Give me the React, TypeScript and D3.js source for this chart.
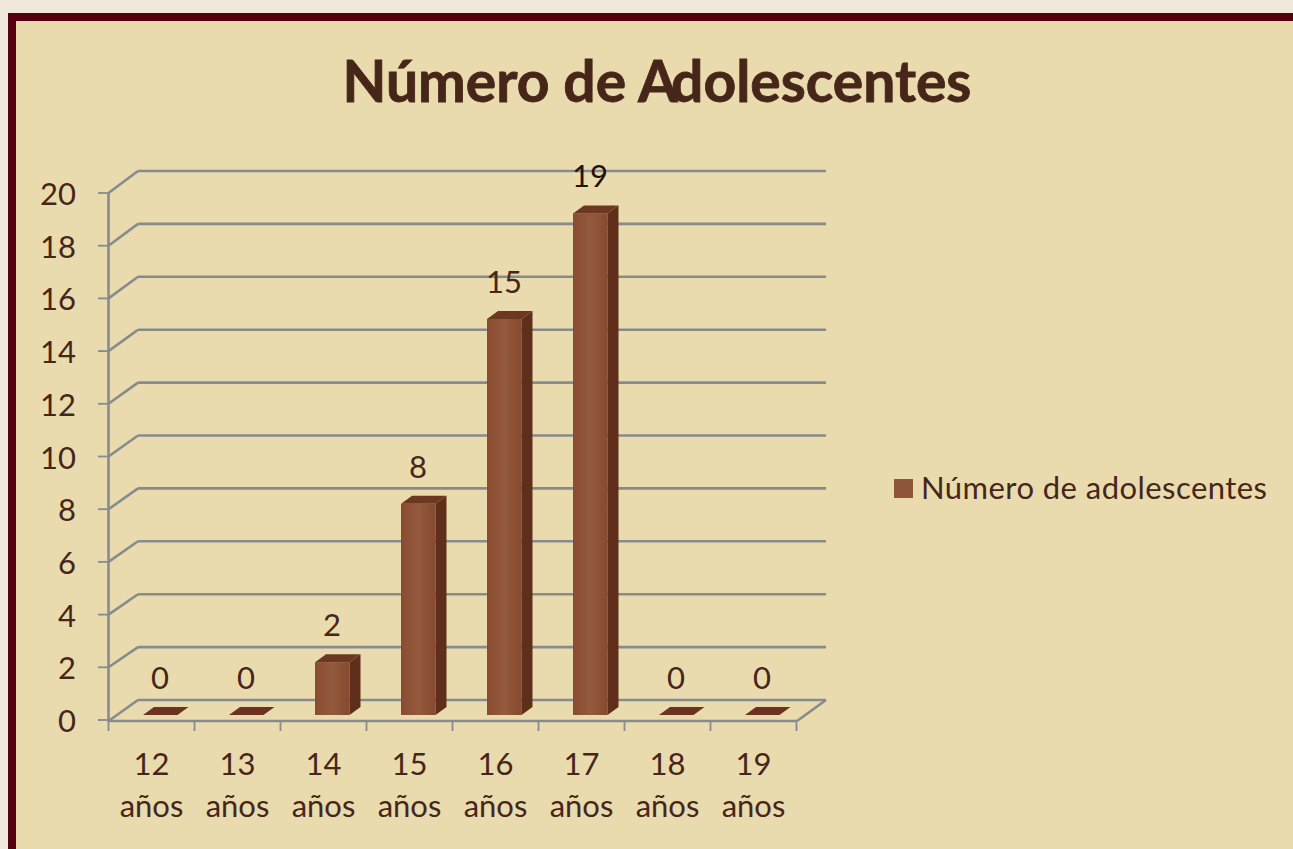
import React, { useEffect, useRef } from "react"
import * as d3 from "d3"

const categories = ["12", "13", "14", "15", "16", "17", "18", "19"]
const values = [0, 0, 2, 8, 15, 19, 0, 0]
const yTicks = [0, 2, 4, 6, 8, 10, 12, 14, 16, 18, 20]
const seriesName = "Número de adolescentes"
const titleStart = "Número de A"
const titleEnd = "dolescentes"

const w = 1293
const h = 849
const font = "Lato, 'Open Sans', sans-serif"
const textColor = "#47261a"
const gridColor = "#878b8e"
const labelSize = 31

export default function App() {
  const ref = useRef<SVGSVGElement>(null)

  useEffect(() => {
    const svg = d3.select(ref.current)
    svg.selectAll("*").remove()

    // page + frame
    svg.append("rect").attr("width", w).attr("height", h).attr("fill", "#efe7da")
    svg.append("rect").attr("x", 8).attr("y", 13).attr("width", w).attr("height", h).attr("fill", "#55000f")
    svg.append("rect").attr("x", 16).attr("y", 21).attr("width", w).attr("height", h).attr("fill", "#e9dbae")

    const defs = svg.append("defs")
    const grad = defs.append("linearGradient").attr("id", "front")
    grad.append("stop").attr("offset", "0").attr("stop-color", "#8a4c30")
    grad.append("stop").attr("offset", "0.5").attr("stop-color", "#935a3d")
    grad.append("stop").attr("offset", "1").attr("stop-color", "#864a2e")

    const title = svg.append("text")
      .attr("x", 657).attr("y", 102)
      .attr("text-anchor", "middle")
      .attr("font-family", font).attr("font-weight", 700).attr("font-size", 57)
      .attr("stroke", textColor).attr("stroke-width", 0.8)
      .attr("fill", textColor)
    title.append("tspan").text(titleStart)
    title.append("tspan").attr("dx", -6).text(titleEnd)

    // scales, the back wall sits up and to the right of the front plane
    const y = d3.scaleLinear().domain([0, 20]).range([720, 193])
    const yBack = d3.scaleLinear().domain([0, 20]).range([700, 171])
    const yBar = d3.scaleLinear().domain([0, 20]).range([715, 187])
    const x = d3.scaleBand().domain(categories).range([108.5, 796.5])
    const frontX = 108.5
    const backX = 138
    const endX = 826

    const line = (x1, y1, x2, y2) =>
      svg.append("line").attr("x1", x1).attr("y1", y1).attr("x2", x2).attr("y2", y2)
        .attr("stroke", gridColor).attr("stroke-width", 2.6)

    yTicks.forEach((t) => {
      if (t > 0) line(frontX, y(t), backX, yBack(t))
      line(backX, yBack(t), endX, yBack(t))
      line(98, y(t), frontX, y(t)).attr("stroke-width", 1.8)
      svg.append("text")
        .attr("x", 76).attr("y", y(t) + 12)
        .attr("text-anchor", "end")
        .attr("font-family", font).attr("font-size", labelSize)
        .attr("fill", textColor)
        .text(t)
    })

    // floor + axes
    line(frontX, y(20), frontX, y(0) + 2)
    line(frontX, y(0) + 1, backX, yBack(0))
    line(frontX, y(0) + 1, 797, y(0) + 1)
    line(797, y(0) + 1, endX, yBack(0))

    categories.concat("").forEach((c, i) => {
      const tx = 108.5 + i * x.step()
      line(tx, y(0) + 1, tx, y(0) + 11).attr("stroke-width", 1.8)
    })

    categories.forEach((c) => {
      const cx = x(c) + x.bandwidth() / 2
      const lab = svg.append("text")
        .attr("text-anchor", "middle")
        .attr("font-family", font).attr("font-size", labelSize)
        .attr("fill", textColor)
      lab.append("tspan").attr("x", cx).attr("y", 775).text(c)
      lab.append("tspan").attr("x", cx).attr("y", 817).text("años")
    })

    // bars
    const barW = 34.5
    const dx = 11
    const dy = 8
    categories.forEach((c, i) => {
      const v = values[i]
      const left = x(c) + 34.5
      const top = yBar(v)
      const base = yBar(0)
      const g = svg.append("g")
      const area = d3.line()
      if (v > 0) {
        g.append("rect").attr("x", left).attr("y", top).attr("width", barW).attr("height", base - top).attr("fill", "url(#front)")
        g.append("path")
          .attr("d", area([[left + barW, top], [left + barW + dx, top - dy], [left + barW + dx, base - dy], [left + barW, base]]) + "Z")
          .attr("fill", "#5f2f1b")
      }
      g.append("path")
        .attr("d", area([[left, top], [left + dx, top - dy], [left + barW + dx, top - dy], [left + barW, top]]) + "Z")
        .attr("fill", v > 0 ? "#6d3821" : "#6b3320")

      svg.append("text")
        .attr("x", left + 17).attr("y", top - 26)
        .attr("text-anchor", "middle")
        .attr("font-family", font).attr("font-size", labelSize)
        .attr("fill", v === 19 ? "#1f120a" : textColor)
        .text(v)
    })

    // legend
    svg.append("rect").attr("x", 894).attr("y", 479).attr("width", 19).attr("height", 19).attr("fill", "#8f5538")
    svg.append("text")
      .attr("x", 921).attr("y", 499)
      .attr("font-family", font).attr("font-size", labelSize)
      .attr("textLength", 346)
      .attr("fill", textColor)
      .text(seriesName)
  }, [])

  return <svg ref={ref} width={w} height={h} style={{ position: "absolute", left: 0, top: 0 }} />
}
